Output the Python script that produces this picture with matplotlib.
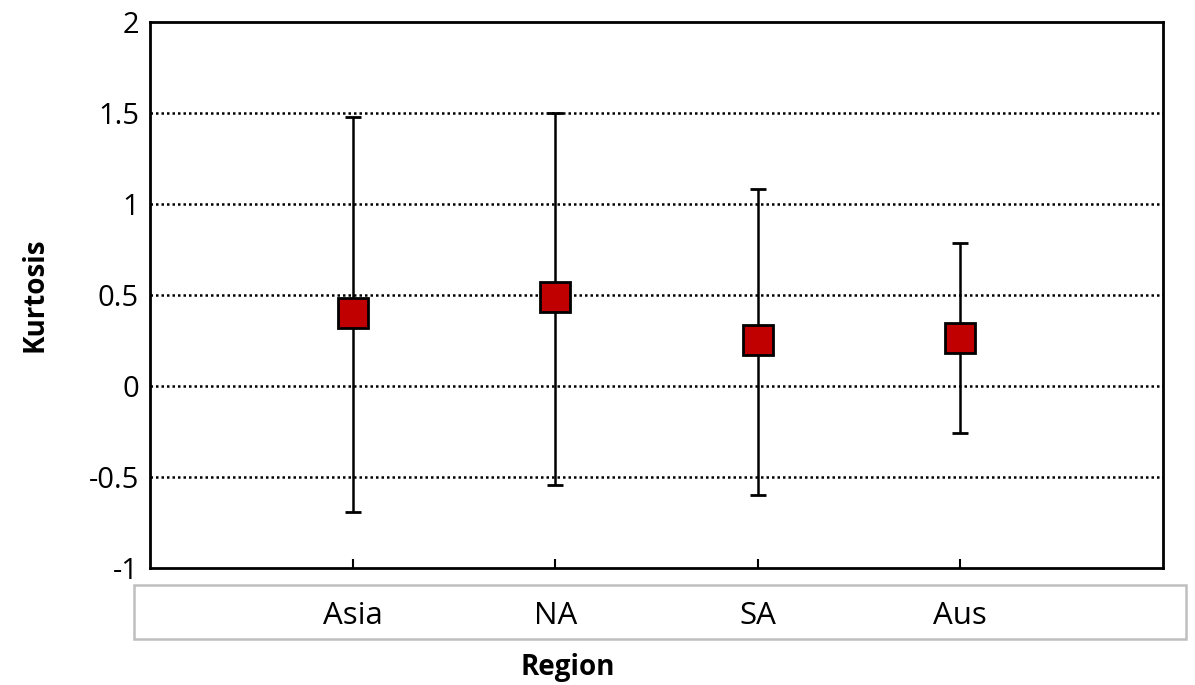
import matplotlib.pyplot as plt
from matplotlib.patches import Rectangle

# data
regions = ['Asia', 'NA', 'SA', 'Aus']
kurtosis = [0.40, 0.49, 0.25, 0.265]
upper = [1.48, 1.50, 1.08, 0.785]
lower = [-0.69, -0.545, -0.60, -0.26]
yticks = [-1, -0.5, 0, 0.5, 1, 1.5, 2]
ytick_labels = ['-1', '-0.5', '0', '0.5', '1', '1.5', '2']

plt.rcParams['font.family'] = ['Open Sans', 'DejaVu Sans']

fig = plt.figure(figsize=(11.95, 6.85), dpi=100)
ax = fig.add_axes([0.1255, 0.1708, 0.8477, 0.7971])

x = list(range(1, len(regions) + 1))
err_lo = [k - l for k, l in zip(kurtosis, lower)]
err_hi = [u - k for k, u in zip(kurtosis, upper)]

ax.errorbar(x, kurtosis, yerr=[err_lo, err_hi], fmt='s', color='black',
            ecolor='black', elinewidth=1.8, capsize=6, capthick=1.8,
            markersize=21, markerfacecolor='#c00000', markeredgecolor='black',
            markeredgewidth=2, zorder=3)

ax.set_xlim(0, 5)
ax.set_ylim(-1, 2)
ax.set_yticks(yticks)
ax.set_yticklabels(ytick_labels)
ax.set_xticks(x)
ax.set_xticklabels(regions)

# dotted gridlines
for yv in yticks[1:-1]:
    ax.axhline(yv, color='black', linestyle=(0, (1, 1.2)), linewidth=1.8, zorder=1)

for s in ax.spines.values():
    s.set_linewidth(2)
    s.set_color('black')

ax.tick_params(axis='y', length=0, pad=8, labelsize=21)
ax.tick_params(axis='x', direction='in', length=6.5, width=1.5, pad=23.5, labelsize=22.5)

ax.set_ylabel('Kurtosis', fontsize=20, fontweight='bold')
ax.yaxis.set_label_coords(-0.099, 0.5)
fig.text(568 / 1195, 1 - 668 / 685, 'Region', ha='center', va='center', fontsize=20, fontweight='bold')

# category box below the plot
box = Rectangle((134 / 1195, (685 - 639) / 685), (1186 - 134) / 1195, (639 - 585) / 685,
                transform=fig.transFigure, fill=False, edgecolor='#bfbfbf', linewidth=1.8)
fig.add_artist(box)

fig.savefig('out.png', dpi=100)
